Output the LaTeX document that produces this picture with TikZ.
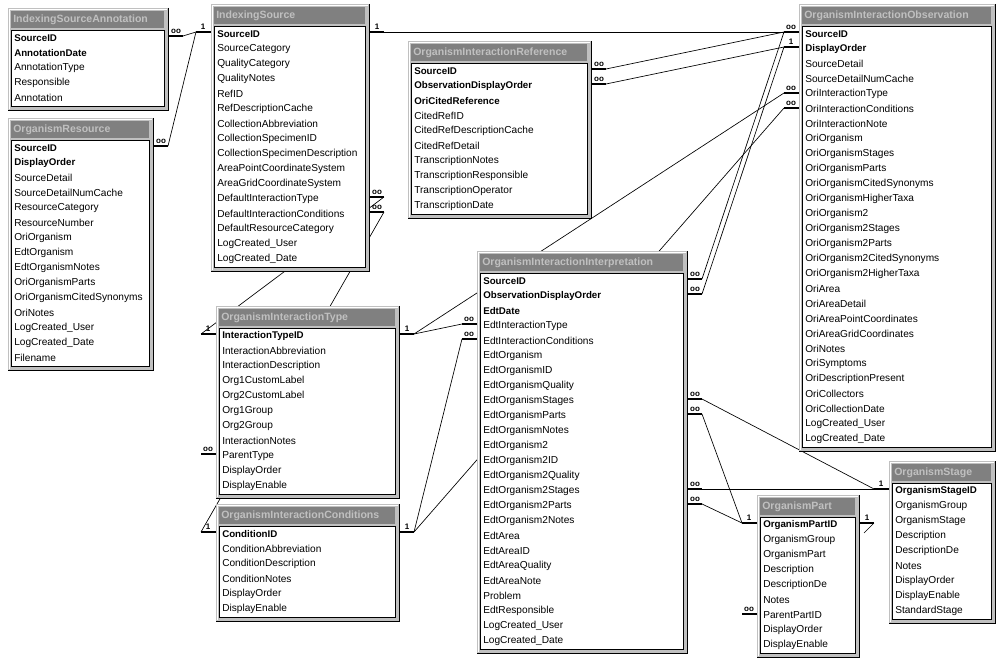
\documentclass[tikz,border=0pt]{standalone}
\usepackage{fontspec}
\setmainfont{Liberation Sans}
\definecolor{frame}{HTML}{C0C0C0}
\definecolor{hdr}{HTML}{808080}
\tikzset{
  rel/.style={line width=0.5pt},
  stub/.style={line width=2.2pt},
  endlbl/.style={font=\bfseries\fontsize{6}{6}\selectfont,inner sep=0pt,anchor=south},
  ttl/.style={font=\bfseries\fontsize{7.9}{8}\selectfont,text=frame,anchor=west,inner sep=0pt},
  fld/.style={font=\fontsize{7.6}{8}\selectfont,anchor=west,inner sep=0pt},
  key/.style={fld,font=\bfseries\fontsize{7.3}{8}\selectfont}
}
% table: name, x, y, width, rows, title, keys, fields
\newcommand\dbtable[8]{%
  \pgfmathsetmacro\tbot{#3+30+15*(#5-1)+12}
  \fill[frame] (#2,#3) rectangle (#2+#4,\tbot);
  \draw[black] (#2+#4,#3) -- (#2+#4,\tbot) -- (#2,\tbot);
  \draw[white] (#2+1,\tbot-1) -- (#2+1,#3+1) -- (#2+#4-1,#3+1);
  \fill[hdr] (#2+3,#3+3) rectangle (#2+#4-4,#3+20);
  \node[ttl] (#1) at (#2+5,#3+11.5) {#6};
  \draw[fill=white] (#2+3,#3+22) rectangle (#2+#4-4,\tbot-4);
  \foreach \f [count=\i from 0] in {#8} {
    \ifnum\i<#7
      \node[key] (#1-\i) at (#2+6,#3+30+15*\i) {\f};
    \else
      \node[fld] (#1-\i) at (#2+6,#3+30+15*\i) {\f};
    \fi
  }
}
% relation end: name, edge x, y, direction, label
\newcommand\relend[5]{%
  \draw[stub] (#2,#3) -- ++(#4*15,0) coordinate (#1);
  \node[endlbl] (#1-l) at (#2+#4*8,#3-2) {#5};
}
\newcommand\many{oo}

\begin{document}
\begin{tikzpicture}[x=0.75pt,y=-0.75pt]
  \useasboundingbox[fill=white] (0,0) rectangle (1000,659);

  % relation ends
  \relend{isa-src}{168}{36}{1}{\many}
  \relend{or-src}{153}{146}{1}{\many}
  \relend{is-l}{211}{32}{-1}{1}
  \relend{is-r}{369}{32}{1}{1}
  \relend{is-type}{369}{197}{1}{\many}
  \relend{is-cond}{369}{212}{1}{\many}
  \relend{oir-a}{591}{69}{1}{\many}
  \relend{oir-b}{591}{84}{1}{\many}
  \relend{oio-src}{799}{32}{-1}{\many}
  \relend{oio-ord}{799}{47}{-1}{1}
  \relend{oio-type}{799}{93}{-1}{\many}
  \relend{oio-cond}{799}{108}{-1}{\many}
  \relend{oit-l}{216}{334}{-1}{1}
  \relend{oit-par}{216}{454}{-1}{\many}
  \relend{oit-r}{399}{334}{1}{1}
  \relend{oic-l}{216}{532}{-1}{1}
  \relend{oic-r}{399}{532}{1}{1}
  \relend{oii-type}{477}{324}{-1}{\many}
  \relend{oii-cond}{477}{339}{-1}{\many}
  \relend{oii-a}{687}{279}{1}{\many}
  \relend{oii-b}{687}{294}{1}{\many}
  \relend{oii-st}{687}{399}{1}{\many}
  \relend{oii-pt}{687}{414}{1}{\many}
  \relend{oii-st2}{687}{489}{1}{\many}
  \relend{oii-pt2}{687}{504}{1}{\many}
  \relend{op-l}{757}{523}{-1}{1}
  \relend{op-r}{859}{523}{1}{1}
  \relend{op-par}{757}{614}{-1}{\many}
  \relend{os-l}{889}{489}{-1}{1}

  % relations
  \draw[rel] (isa-src) -- (is-l);
  \draw[rel] (or-src) -- (is-l);
  \draw[rel] (is-r) -- (oio-src);
  \draw[rel] (oir-a) -- (oio-src);
  \draw[rel] (oir-b) -- (oio-ord);
  \draw[rel] (oii-a) -- (oio-src);
  \draw[rel] (oii-b) -- (oio-ord);
  \draw[rel] (oio-type) -- (oit-r);
  \draw[rel] (oio-cond) -- (oic-r);
  \draw[rel] (oit-r) -- (oii-type);
  \draw[rel] (oic-r) -- (oii-cond);
  \draw[rel] (is-type) -- (oit-l);
  \draw[rel] (is-cond) -- (oic-l);
  \draw[rel] (oii-st) -- (os-l);
  \draw[rel] (oii-pt) -- (op-l);
  \draw[rel] (oii-st2) -- (os-l);
  \draw[rel] (oii-pt2) -- (op-l);
  \draw[rel] (op-r) -- ++(-10,10);

  % tables
  \dbtable{isa}{8}{8}{160}{5}{IndexingSourceAnnotation}{2}{SourceID,AnnotationDate,AnnotationType,Responsible,Annotation}
  \dbtable{ores}{8}{118}{145}{15}{OrganismResource}{2}{SourceID,DisplayOrder,SourceDetail,SourceDetailNumCache,ResourceCategory,ResourceNumber,OriOrganism,EdtOrganism,EdtOrganismNotes,OriOrganismParts,OriOrganismCitedSynonyms,OriNotes,LogCreated\_User,LogCreated\_Date,Filename}
  \dbtable{is}{211}{4}{158}{16}{IndexingSource}{1}{SourceID,SourceCategory,QualityCategory,QualityNotes,RefID,RefDescriptionCache,CollectionAbbreviation,CollectionSpecimenID,CollectionSpecimenDescription,AreaPointCoordinateSystem,AreaGridCoordinateSystem,DefaultInteractionType,DefaultInteractionConditions,DefaultResourceCategory,LogCreated\_User,LogCreated\_Date}
  \dbtable{oir}{408}{41}{183}{10}{OrganismInteractionReference}{3}{SourceID,ObservationDisplayOrder,OriCitedReference,CitedRefID,CitedRefDescriptionCache,CitedRefDetail,TranscriptionNotes,TranscriptionResponsible,TranscriptionOperator,TranscriptionDate}
  \dbtable{oio}{799}{4}{196}{28}{OrganismInteractionObservation}{2}{SourceID,DisplayOrder,SourceDetail,SourceDetailNumCache,OriInteractionType,OriInteractionConditions,OriInteractionNote,OriOrganism,OriOrganismStages,OriOrganismParts,OriOrganismCitedSynonyms,OriOrganismHigherTaxa,OriOrganism2,OriOrganism2Stages,OriOrganism2Parts,OriOrganism2CitedSynonyms,OriOrganism2HigherTaxa,OriArea,OriAreaDetail,OriAreaPointCoordinates,OriAreaGridCoordinates,OriNotes,OriSymptoms,OriDescriptionPresent,OriCollectors,OriCollectionDate,LogCreated\_User,LogCreated\_Date}
  \dbtable{oit}{216}{306}{183}{11}{OrganismInteractionType}{1}{InteractionTypeID,InteractionAbbreviation,InteractionDescription,Org1CustomLabel,Org2CustomLabel,Org1Group,Org2Group,InteractionNotes,ParentType,DisplayOrder,DisplayEnable}
  \dbtable{oic}{216}{504}{183}{6}{OrganismInteractionConditions}{1}{ConditionID,ConditionAbbreviation,ConditionDescription,ConditionNotes,DisplayOrder,DisplayEnable}
  \dbtable{oii}{477}{251}{210}{25}{OrganismInteractionInterpretation}{3}{SourceID,ObservationDisplayOrder,EdtDate,EdtInteractionType,EdtInteractionConditions,EdtOrganism,EdtOrganismID,EdtOrganismQuality,EdtOrganismStages,EdtOrganismParts,EdtOrganismNotes,EdtOrganism2,EdtOrganism2ID,EdtOrganism2Quality,EdtOrganism2Stages,EdtOrganism2Parts,EdtOrganism2Notes,EdtArea,EdtAreaID,EdtAreaQuality,EdtAreaNote,Problem,EdtResponsible,LogCreated\_User,LogCreated\_Date}
  \dbtable{op}{757}{495}{102}{9}{OrganismPart}{1}{OrganismPartID,OrganismGroup,OrganismPart,Description,DescriptionDe,Notes,ParentPartID,DisplayOrder,DisplayEnable}
  \dbtable{os}{889}{461}{106}{9}{OrganismStage}{1}{OrganismStageID,OrganismGroup,OrganismStage,Description,DescriptionDe,Notes,DisplayOrder,DisplayEnable,StandardStage}
\end{tikzpicture}
\end{document}
